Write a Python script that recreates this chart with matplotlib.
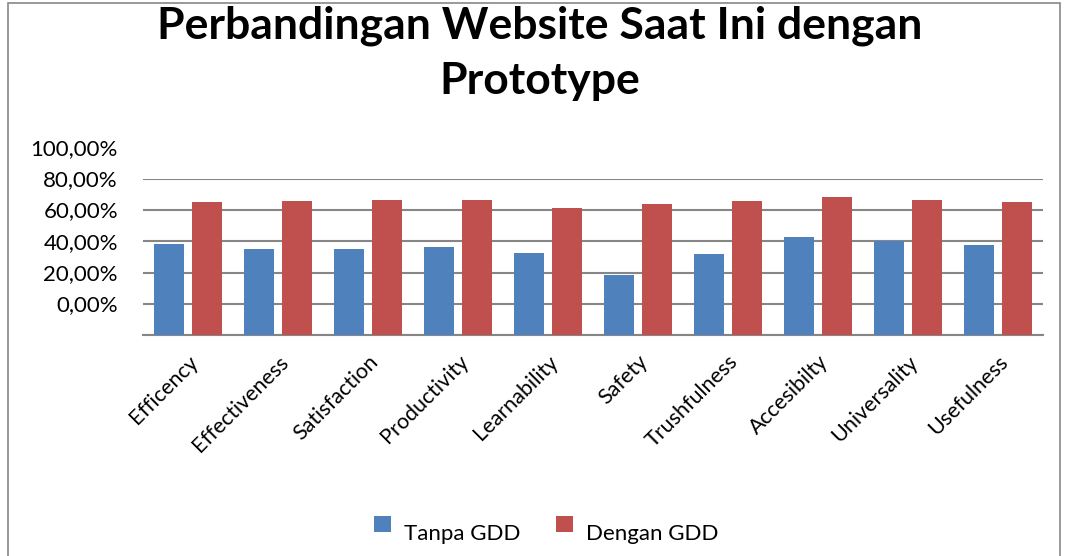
import matplotlib
matplotlib.use("Agg")
import matplotlib.pyplot as plt
import matplotlib.transforms as mtransforms
from matplotlib.patches import Rectangle
import numpy as np

categories = ["Efficency", "Effectiveness", "Satisfaction", "Productivity", "Learnability",
              "Safety", "Trushfulness", "Accesibilty", "Universality", "Usefulness"]
tanpa_gdd = [58.3, 55.1, 55.1, 56.4, 52.6, 38.5, 51.9, 62.8, 60.3, 57.7]
dengan_gdd = [85.3, 85.9, 86.5, 86.5, 81.4, 84.0, 85.9, 88.5, 86.5, 85.3]
y_ticks = [0, 20, 40, 60, 80, 100]
y_labels = ["0,00%", "20,00%", "40,00%", "60,00%", "80,00%", "100,00%"]

blue = "#4F81BD"
red = "#C0504D"
grid_gray = "#868686"

plt.rcParams["font.family"] = ["Lato", "DejaVu Sans"]

fig = plt.figure(figsize=(10.65, 5.56), dpi=100)
ax = fig.add_axes([143 / 1065, 1 - 335 / 556, 900 / 1065, 156 / 556])

x = np.arange(len(categories))
w = 0.34
ax.bar(x - 0.21, tanpa_gdd, w, color=blue, label="Tanpa GDD", zorder=3)
ax.bar(x + 0.21, dengan_gdd, w, color=red, label="Dengan GDD", zorder=3)

ax.set_xlim(-0.5, len(categories) - 0.5)
ax.set_ylim(0, 100)
ax.set_yticks(y_ticks)
ax.set_yticklabels(y_labels, fontsize=16)
ax.yaxis.grid(True, color=grid_gray, linewidth=1.5, zorder=0)
ax.tick_params(axis="y", length=0, pad=18)
for s in ["left", "right", "top"]:
    ax.spines[s].set_visible(False)
ax.spines["bottom"].set_color(grid_gray)
ax.spines["bottom"].set_linewidth(1.5)

# y labels sit one step above their gridlines, as in the original export
shift = mtransforms.ScaledTranslation(0, 0.32, fig.dpi_scale_trans)
for lab in ax.get_yticklabels():
    lab.set_transform(lab.get_transform() + shift)

ax.set_xticks(x)
ax.set_xticklabels(categories, rotation=45, ha="right", rotation_mode="anchor", fontsize=15.5)
ax.tick_params(axis="x", length=0, pad=12)

fig.suptitle("Perbandingan Website Saat Ini dengan\nPrototype", fontsize=32, fontweight="bold",
             x=0.507, y=0.99, linespacing=1.45)

leg = fig.legend(loc="lower center", bbox_to_anchor=(0.513, 0.0), ncol=2, frameon=False,
                 fontsize=16, handlelength=0.75, handleheight=0.75, handletextpad=0.6,
                 columnspacing=1.6)
for t in leg.get_texts():
    t.set_y(-8)

fig.add_artist(Rectangle((8 / 1065, -0.01), 1052 / 1065, 1 - 3 / 556 + 0.01,
                         transform=fig.transFigure, fill=False, edgecolor="#888888", linewidth=1.2))

fig.savefig("out.png", dpi=100)
